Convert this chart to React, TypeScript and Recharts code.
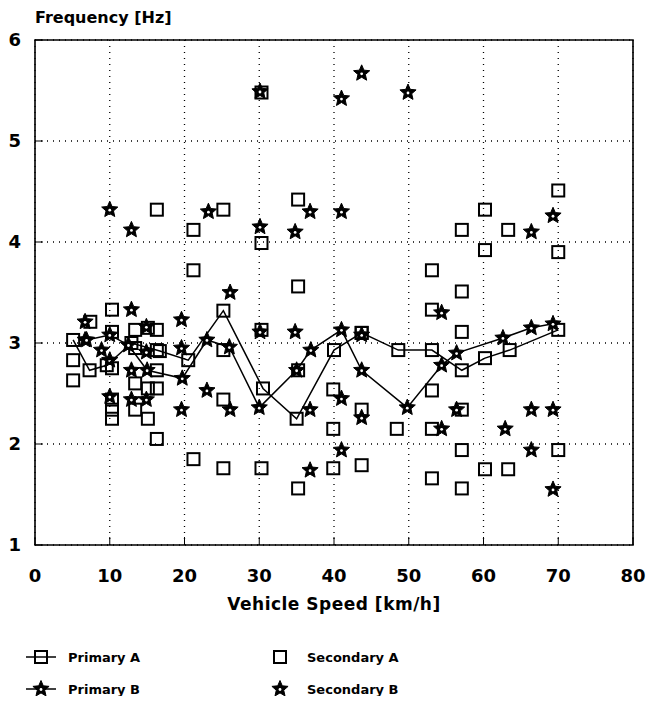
import {
  ScatterChart,
  Scatter,
  XAxis,
  YAxis,
  CartesianGrid,
  ReferenceArea,
} from "recharts";

// axis ticks
const speedTicks = [0, 10, 20, 30, 40, 50, 60, 70, 80];
const freqTicks = [1, 2, 3, 4, 5, 6];

// primary modes (connected)
const primaryASpeed = [5.1, 7.3, 9.6, 12.9, 16.7, 20.5, 25.2, 30.5, 35, 40, 43.7, 48.6, 53.1, 57.1, 60.2, 63.5, 70];
const primaryAFreq = [3.03, 2.73, 2.78, 3.0, 2.92, 2.83, 3.32, 2.55, 2.25, 2.93, 3.1, 2.93, 2.93, 2.73, 2.85, 2.93, 3.13];

const primaryBSpeed = [6.9, 10, 12.5, 15, 19.7, 23, 26, 30, 35, 36.9, 41, 43.7, 49.8, 54.4, 56.4, 62.6, 66.4, 69.3];
const primaryBFreq = [3.03, 3.08, 2.98, 2.73, 2.65, 3.03, 2.96, 2.36, 2.73, 2.93, 3.13, 2.73, 2.36, 2.78, 2.9, 3.05, 3.15, 3.19];

// secondary modes (points only)
const secondaryASpeed = [
  5.1, 5.1, 7.4, 10.3, 10.3, 10.3, 10.3, 10.3, 10.3, 13.4, 13.4, 13.4, 13.4, 15.1, 15.1, 15.1,
  16.3, 16.3, 16.3, 16.3, 16.3, 16.3, 21.2, 21.2, 21.2, 25.2, 25.2, 25.2, 25.2, 30.3, 30.3, 30.3,
  30.3, 35.2, 35.2, 35.2, 35.2, 39.9, 39.9, 39.9, 43.7, 43.7, 43.7, 48.4, 53.1, 53.1, 53.1, 53.1,
  53.1, 57.1, 57.1, 57.1, 57.1, 57.1, 57.1, 60.2, 60.2, 60.2, 63.3, 63.3, 70, 70, 70,
];
const secondaryAFreq = [
  2.83, 2.63, 3.21, 3.33, 3.11, 2.75, 2.44, 2.34, 2.25, 3.13, 2.95, 2.6, 2.34, 3.15, 2.55, 2.25,
  4.32, 3.13, 2.93, 2.73, 2.55, 2.05, 4.12, 3.72, 1.85, 4.32, 2.93, 2.44, 1.76, 5.48, 3.99, 3.13,
  1.76, 4.42, 3.56, 2.73, 1.56, 2.54, 2.15, 1.76, 3.1, 2.34, 1.79, 2.15, 3.72, 3.33, 2.53, 2.15,
  1.66, 4.12, 3.51, 3.11, 2.34, 1.94, 1.56, 4.32, 3.92, 1.75, 4.12, 1.75, 4.51, 3.9, 1.94,
];

const secondaryBSpeed = [
  6.7, 6.7, 8.9, 10, 10, 10, 12.9, 12.9, 12.9, 12.9, 14.9, 14.9, 14.9, 19.6, 19.6, 19.6, 23.2,
  23, 26.1, 26.1, 30.1, 30.1, 30.1, 34.8, 34.8, 36.8, 36.8, 36.8, 41, 41, 41, 41, 43.7, 43.7,
  43.7, 49.9, 54.4, 54.4, 56.4, 62.9, 66.4, 66.4, 66.4, 69.3, 69.3, 69.3,
];
const secondaryBFreq = [
  3.21, 3.03, 2.93, 4.32, 2.83, 2.47, 4.12, 3.33, 2.73, 2.44, 3.16, 2.91, 2.44, 3.23, 2.95, 2.34, 4.3,
  2.53, 3.5, 2.34, 5.49, 4.15, 3.11, 4.1, 3.11, 4.3, 2.34, 1.74, 5.42, 4.3, 2.45, 1.94, 5.67, 3.08,
  2.26, 5.48, 3.3, 2.15, 2.34, 2.15, 4.1, 2.34, 1.94, 4.26, 2.34, 1.55,
];

const toPoints = (xs: number[], ys: number[]) =>
  xs.map((speed, i) => ({ speed, freq: ys[i] }));

const primaryA = toPoints(primaryASpeed, primaryAFreq);
const primaryB = toPoints(primaryBSpeed, primaryBFreq);
const secondaryA = toPoints(secondaryASpeed, secondaryAFreq);
const secondaryB = toPoints(secondaryBSpeed, secondaryBFreq);

const FONT = "'DejaVu Sans', sans-serif";

function starPath(cx: number, cy: number, ro: number, ri: number) {
  let d = "";
  for (let i = 0; i < 10; i++) {
    const r = i % 2 === 0 ? ro : ri;
    const a = -Math.PI / 2 + (i * Math.PI) / 5;
    d += (i === 0 ? "M" : "L") + (cx + r * Math.cos(a)).toFixed(2) + "," + (cy + r * Math.sin(a)).toFixed(2);
  }
  return d + "Z";
}

const SquareMark = ({ cx, cy }: { cx: number; cy: number }) => (
  <rect x={cx - 6} y={cy - 6} width={12} height={12} fill="none" stroke="#000" strokeWidth={2} />
);

// solid star with a small open centre
const StarMark = ({ cx, cy }: { cx: number; cy: number }) => (
  <g>
    <path d={starPath(cx, cy, 8.5, 3.9)} fill="#000" stroke="#000" strokeWidth={1} strokeLinejoin="miter" />
    <circle cx={cx} cy={cy + 0.5} r={1.4} fill="#fff" />
  </g>
);

function LegendItem({ x, y, label, star, line }: { x: number; y: number; label: string; star?: boolean; line?: boolean }) {
  return (
    <div style={{ position: "absolute", left: x, top: y - 10, height: 20, display: "flex", alignItems: "center" }}>
      <svg width={30} height={20} style={{ marginRight: line ? 12 : 4 }}>
        {line && <line x1={0} y1={10} x2={30} y2={10} stroke="#000" strokeWidth={1.5} />}
        {star ? <StarMark cx={15} cy={10} /> : <SquareMark cx={15} cy={10} />}
      </svg>
      <span style={{ fontFamily: FONT, fontWeight: "bold", fontSize: 13, marginLeft: line ? 0 : 8 }}>{label}</span>
    </div>
  );
}

export default function App() {
  return (
    <div style={{ position: "relative", width: 641, height: 688, background: "#fff" }}>
      <div
        style={{
          position: "absolute",
          left: 27,
          top: 0,
          fontFamily: FONT,
          fontWeight: "bold",
          fontSize: 16,
        }}
      >
        Frequency [Hz]
      </div>

      <ScatterChart width={641} height={620} margin={{ top: 32, right: 16, bottom: 13, left: 7 }}>
        <CartesianGrid stroke="#000" strokeDasharray="1 5" strokeWidth={1.3} />
        <XAxis
          type="number"
          dataKey="speed"
          domain={[0, 80]}
          ticks={speedTicks}
          height={70}
          axisLine={false}
          tickSize={-8}
          tickMargin={32}
          tickLine={{ stroke: "#000" }}
          tick={{ fill: "#000", fontFamily: FONT, fontWeight: "bold", fontSize: 18 }}
          label={{
            value: "Vehicle Speed [km/h]",
            position: "insideBottom",
            offset: 5,
            fill: "#000",
            style: { fontFamily: FONT, fontWeight: "bold", fontSize: 17, letterSpacing: 0.5 },
          }}
        />
        <YAxis
          type="number"
          dataKey="freq"
          domain={[1, 6]}
          ticks={freqTicks}
          width={20}
          axisLine={false}
          tickSize={-8}
          tickMargin={22}
          tickLine={{ stroke: "#000" }}
          tick={{ fill: "#000", fontFamily: FONT, fontWeight: "bold", fontSize: 18 }}
        />
        <ReferenceArea x1={0} x2={80} y1={1} y2={6} fill="none" fillOpacity={0} stroke="#000" strokeWidth={1.6} />

        <Scatter data={secondaryA} isAnimationActive={false} shape={(p: any) => <SquareMark cx={p.cx} cy={p.cy} />} />
        <Scatter data={secondaryB} isAnimationActive={false} shape={(p: any) => <StarMark cx={p.cx} cy={p.cy} />} />
        <Scatter
          data={primaryA}
          isAnimationActive={false}
          line={{ stroke: "#000", strokeWidth: 1.5 }}
          lineType="joint"
          shape={(p: any) => <SquareMark cx={p.cx} cy={p.cy} />}
        />
        <Scatter
          data={primaryB}
          isAnimationActive={false}
          line={{ stroke: "#000", strokeWidth: 1.5 }}
          lineType="joint"
          shape={(p: any) => <StarMark cx={p.cx} cy={p.cy} />}
        />
      </ScatterChart>

      <LegendItem x={18} y={649} label="Primary A" line />
      <LegendItem x={18} y={681} label="Primary B" line star />
      <LegendItem x={257} y={649} label="Secondary A" />
      <LegendItem x={257} y={681} label="Secondary B" star />
    </div>
  );
}
